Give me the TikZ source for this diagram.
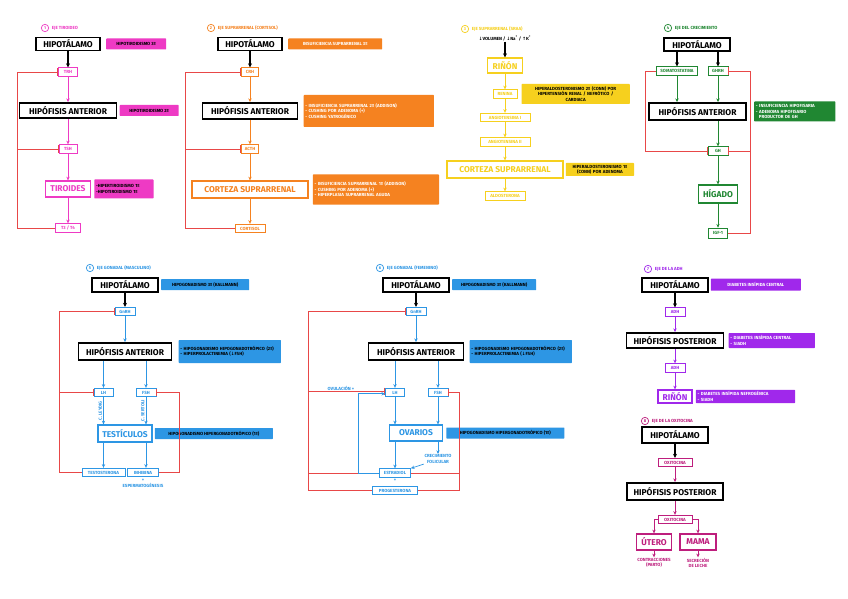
\documentclass[tikz,border=0pt]{standalone}
\usepackage{fontspec}
\setmainfont{Fira Sans}
\newfontfamily\arrowfont{DejaVu Sans}
\usepackage{tikz}
\usetikzlibrary{positioning,arrows.meta,calc}

\definecolor{cpink}{RGB}{238,58,196}
\definecolor{corange}{RGB}{245,130,32}
\definecolor{cyellow}{RGB}{246,208,30}
\definecolor{cgreen}{RGB}{32,135,50}
\definecolor{cblue}{RGB}{45,150,228}
\definecolor{cpurple}{RGB}{160,40,235}
\definecolor{cmag}{RGB}{190,30,125}
\definecolor{cred}{RGB}{232,72,72}

\newcommand{\dn}{{\arrowfont ↓}}
\newcommand{\upa}{{\arrowfont ↑}}

\begin{document}
\begin{tikzpicture}[
    x=0.3mm, y=-0.3mm,
    organ/.style={draw, line width=1.6pt, fill=white, inner sep=1pt, font=\fontsize{7.2}{8}\selectfont\bfseries},
    gland/.style={draw=#1, text=#1, line width=1.1pt, fill=white, inner sep=1pt, font=\fontsize{7.2}{8}\selectfont\bfseries},
    hormone/.style={draw=#1, text=#1, line width=0.6pt, fill=white, inner sep=1pt, minimum height=2.6mm, font=\fontsize{3.8}{4.5}\selectfont\bfseries},
    note/.style={fill=#1, rounded corners=0.5pt, inner sep=1.5pt, align=left, font=\fontsize{3.8}{4.6}\selectfont\bfseries},
    title/.style={text=#1, anchor=west, inner sep=0.5pt, font=\fontsize{3.8}{4.5}\selectfont\bfseries},
    num/.style={circle, draw=#1, text=#1, line width=0.6pt, inner sep=0pt, minimum size=2.2mm, font=\fontsize{3.5}{4}\selectfont\bfseries},
    smalltext/.style={text=#1, align=center, inner sep=0.5pt, font=\fontsize{3.8}{4.5}\selectfont\bfseries},
    arr/.style={draw=#1, line width=0.6pt, -{Stealth[length=1.1mm, width=1mm]}},
    blackarr/.style={draw=black, line width=1pt, -{Stealth[length=1.2mm, width=1.2mm]}},
    fb/.style={draw=cred, line width=0.8pt},
    inh/.style={fb, -{Bar[width=2.2mm]}}
]
\fill[white] (0,0) rectangle (848,599);

% ===== 1. Eje tiroideo =====
\node[num=cpink] (n1) at (45,28) {1};
\node[title=cpink, right=0.6mm of n1] (t1) {EJE TIROIDEO};
\node[organ, minimum width=19.2mm, minimum height=3.9mm] (hipo1) at (68,44) {HIPOTÁLAMO};
\node[note=cpink, right=1.5mm of hipo1, minimum width=18mm, minimum height=3.3mm] (nh1) {HIPOTIROIDISMO 3º};
\node[hormone=cpink, minimum width=5.7mm] (trh) at (68,72) {TRH};
\node[organ, minimum width=29.1mm, minimum height=4.5mm] (hif1) at (68,110.5) {HIPÓFISIS ANTERIOR};
\node[note=cpink, right=0.6mm of hif1, minimum width=17.7mm, minimum height=3.3mm] (nf1) {HIPOTIROIDISMO 2º};
\node[hormone=cpink, minimum width=5.4mm] (tsh) at (68,149) {TSH};
\node[gland=cpink, minimum width=13.5mm, minimum height=4.8mm] (tir) at (68,189) {TIROIDES};
\node[note=cpink, right=0.9mm of tir, text width=16.7mm, minimum height=5.7mm] (nt1) {-HIPERTIROIDISMO 1º\\-HIPOTIROIDISMO 1º};
\node[hormone=cpink, minimum width=7.5mm] (t3t4) at (68,228) {T3 / T4};

\draw[blackarr] (hipo1) -- (trh);
\draw[arr=cpink] (trh) -- (hif1);
\draw[arr=cpink] (hif1) -- (tsh);
\draw[arr=cpink] (tsh) -- (tir);
\draw[arr=cpink] (tir) -- (t3t4);

\coordinate (fb1) at (17,0);
\draw[inh] (t3t4.west) -- (t3t4.west -| fb1) |- (trh.west);
\draw[inh] (tsh.west -| fb1) -- (tsh.west);

% ===== 2. Eje suprarrenal (cortisol) =====
\node[num=corange] (n2) at (211,28) {2};
\node[title=corange, right=0.6mm of n2] (t2) {EJE SUPRARRENAL (CORTISOL)};
\node[organ, minimum width=19.2mm, minimum height=3.9mm] (hipo2) at (250,44) {HIPOTÁLAMO};
\node[note=corange, text=white, right=1.5mm of hipo2, minimum width=28.2mm, minimum height=3.3mm] (nh2) {INSUFICIENCIA SUPRARRENAL 3º};
\node[hormone=corange, minimum width=5.1mm] (crh) at (250,72) {CRH};
\node[organ, minimum width=28.5mm, minimum height=4.8mm] (hif2) at (250,111) {HIPÓFISIS ANTERIOR};
\node[note=corange, text=white, right=1.5mm of hif2, text width=38mm, minimum height=9.6mm] (nf2) {- INSUFICIENCIA SUPRARRENAL 2º (ADDISON)\\- CUSHING POR ADENOMA (+)\\- CUSHING YATROGÉNICO};
\node[hormone=corange, minimum width=5.1mm] (acth) at (250,149) {ACTH};
\node[gland=corange, minimum width=34.8mm, minimum height=5.1mm] (cort2) at (250,189.5) {CORTEZA SUPRARRENAL};
\node[note=corange, text=white, right=1.2mm of cort2, text width=36.8mm, minimum height=9mm] (nc2) {- INSUFICIENCIA SUPRARRENAL 1º (ADDISON)\\- CUSHING POR ADENOMA (+)\\- HIPERPLASIA SUPRARRENAL AGUDA};
\node[hormone=corange, minimum width=9mm] (cortisol) at (250,228.5) {CORTISOL};

\draw[blackarr] (hipo2) -- (crh);
\draw[arr=corange] (crh) -- (hif2);
\draw[arr=corange] (hif2) -- (acth);
\draw[arr=corange] (acth) -- (cort2);
\draw[arr=corange] (cort2) -- (cortisol);

\coordinate (fb2) at (185,0);
\draw[inh] (cortisol.west) -- (cortisol.west -| fb2) |- (crh.west);
\draw[inh] (acth.west -| fb2) -- (acth.west);

% ===== 3. Eje suprarrenal (SRAA) =====
\node[num=cyellow] (n3) at (465,29) {3};
\node[title=cyellow, right=0.6mm of n3] (t3) {EJE SUPRARRENAL (SRAA)};
\node[smalltext=black] (stim3) at (505,38.5) {\dn VOLUMEN / \dn Na\textsuperscript{+} / \upa K\textsuperscript{+}};
\node[gland=cyellow, minimum width=10.5mm, minimum height=4.5mm] (rin3) at (505,65.5) {RIÑÓN};
\node[hormone=cyellow, minimum width=7.2mm] (renina) at (505,94) {RENINA};
\node[note=cyellow, align=center, right=1.2mm of renina, text width=31.4mm, minimum height=6mm] (nr3) {HIPERALDOSTERONISMO 2º (CONN) POR\\HIPERTENSIÓN RENAL / NEFRÓTICO /\\CARDIACA};
\node[hormone=cyellow, minimum width=15mm] (ang1) at (505,117.5) {ANGIOTENSINA I};
\node[hormone=cyellow, minimum width=15mm] (ang2) at (505,142) {ANGIOTENSINA II};
\node[gland=cyellow, minimum width=34.8mm, minimum height=5.1mm] (cort3) at (505,169.5) {CORTEZA SUPRARRENAL};
\node[note=cyellow, align=center, right=0.6mm of cort3, text width=19.4mm, minimum height=3.9mm] (nc3) {HIPERALDOSTERONISMO 1º\\(CONN) POR ADENOMA};
\node[hormone=cyellow, minimum width=12mm] (aldo) at (505,196) {ALDOSTERONA};

\draw[blackarr] (stim3) -- (rin3);
\draw[arr=cyellow] (rin3) -- (renina);
\draw[arr=cyellow] (renina) -- (ang1);
\draw[arr=cyellow] (ang1) -- (ang2);
\draw[arr=cyellow] (ang2) -- (cort3);
\draw[arr=cyellow] (cort3) -- (aldo);

% ===== 4. Eje del crecimiento =====
\node[num=cgreen] (n4) at (668,28) {4};
\node[title=cgreen, right=0.6mm of n4] (t4) {EJE DEL CRECIMIENTO};
\node[organ, minimum width=19.8mm, minimum height=3.9mm] (hipo4) at (697,44.5) {HIPOTÁLAMO};
\node[hormone=cgreen, minimum width=12.3mm] (somat) at (677,71) {SOMATOSTATINA};
\node[hormone=cgreen, minimum width=6mm] (ghrh) at (718,71) {GHRH};
\node[organ, minimum width=29.1mm, minimum height=5.1mm] (hif4) at (697.5,111.5) {HIPÓFISIS ANTERIOR};
\node[note=cgreen, text=white, right=2.1mm of hif4, text width=23.3mm, minimum height=6mm] (nf4) {- INSUFICIENCIA HIPOFISARIA\\- ADENOMA HIPOFISARIO\\\ \ PRODUCTOR DE GH};
\node[hormone=cgreen, minimum width=6mm] (gh) at (718,151) {GH};
\node[gland=cgreen, minimum width=11.7mm, minimum height=5.4mm] (higado) at (718,194) {HÍGADO};
\node[hormone=cgreen, minimum width=5.7mm, minimum height=3mm] (igf) at (718,233) {IGF-1};

\draw[blackarr] (somat |- hipo4.south) -- (somat);
\draw[blackarr] (ghrh |- hipo4.south) -- (ghrh);
\draw[arr=cgreen] (somat) -- (somat |- hif4.north);
\draw[arr=cgreen] (ghrh) -- (ghrh |- hif4.north);
\draw[arr=cgreen] (gh |- hif4.south) -- (gh);
\draw[arr=cgreen] (gh) -- (higado);
\draw[arr=cgreen] (higado) -- (igf);

\coordinate (fb4l) at (645,0);
\coordinate (fb4r) at (750,0);
\draw[inh] (somat.west) -- (somat.west -| fb4l) |- (gh.west);
\draw[inh] (igf.east) -- (igf.east -| fb4r) |- (ghrh.east);
\draw[inh] (gh.east -| fb4r) -- (gh.east);

% ===== 5. Eje gonadal (masculino) =====
\node[num=cblue] (n5) at (90,268) {5};
\node[title=cblue, right=0.6mm of n5] (t5) {EJE GONADAL (MASCULINO)};
\node[organ, minimum width=19.8mm, minimum height=4.2mm] (hipo5) at (125,284.7) {HIPOTÁLAMO};
\node[note=cblue, right=0.6mm of hipo5, minimum width=26.4mm, minimum height=3.3mm] (nh5) {HIPOGONADISMO 3º (KALLMANN)};
\node[hormone=cblue, minimum width=6mm] (gnrh5) at (125,311.5) {GnRH};
\node[organ, minimum width=27.9mm, minimum height=5.1mm] (hif5) at (125,351.5) {HIPÓFISIS ANTERIOR};
\node[note=cblue, right=1.8mm of hif5, text width=29.6mm, minimum height=6.9mm] (nf5) {- HIPOGONADISMO HIPOGONADOTRÓPICO (2º)\\- HIPERPROLACTINEMIA (\dn FSH)};
\node[hormone=cblue, minimum width=5.7mm] (lh5) at (103.5,392.5) {LH};
\node[hormone=cblue, minimum width=6mm] (fsh5) at (146,392.5) {FSH};
\node[gland=cblue, minimum width=16.2mm, minimum height=5.1mm] (test) at (125,433.5) {TESTÍCULOS};
\node[note=cblue, right=0.6mm of test, minimum width=35.4mm, minimum height=3.3mm] (nt5) {HIPOGONADISMO HIPERGONADOTRÓPICO (1º)};
\node[hormone=cblue, minimum width=12.9mm] (testo) at (103.5,472.5) {TESTOSTERONA};
\node[hormone=cblue, minimum width=9.3mm] (inhib) at (143,472.5) {INHIBINA};
\node[smalltext=cblue, below=0.2mm of inhib] (plus5) {+};
\node[smalltext=cblue, below=0mm of plus5] (esp) {ESPERMATOGÉNESIS};

\draw[blackarr] (hipo5) -- (gnrh5);
\draw[arr=cblue] (gnrh5) -- (hif5);
\draw[arr=cblue] (lh5 |- hif5.south) -- (lh5);
\draw[arr=cblue] (fsh5 |- hif5.south) -- (fsh5);
\draw[arr=cblue] (lh5) -- node[smalltext=cblue, midway, rotate=90, anchor=south, inner sep=1pt] {C. LEYDIG} (lh5 |- test.north);
\draw[arr=cblue] (fsh5) -- node[smalltext=cblue, midway, rotate=90, anchor=south, inner sep=1pt] {C. SERTOLI} (fsh5 |- test.north);
\draw[arr=cblue] (testo |- test.south) -- (testo);
\draw[arr=cblue] (fsh5 |- test.south) -- (fsh5 |- inhib.north);

\coordinate (fb5l) at (59,0);
\coordinate (fb5r) at (179,0);
\draw[inh] (testo.west) -- (testo.west -| fb5l) |- (gnrh5.west);
\draw[inh] (lh5.west -| fb5l) -- (lh5.west);
\draw[inh] (inhib.east) -- (inhib.east -| fb5r) |- (fsh5.east);

% ===== 6. Eje gonadal (femenino) =====
\node[num=cblue] (n6) at (380,268) {6};
\node[title=cblue, right=0.6mm of n6] (t6) {EJE GONADAL (FEMENINO)};
\node[organ, minimum width=19.8mm, minimum height=4.2mm] (hipo6) at (416,284.7) {HIPOTÁLAMO};
\node[note=cblue, right=0.6mm of hipo6, minimum width=25.2mm, minimum height=3.3mm] (nh6) {HIPOGONADISMO 3º (KALLMANN)};
\node[hormone=cblue, minimum width=6mm] (gnrh6) at (416,311.5) {GnRH};
\node[organ, minimum width=28.5mm, minimum height=5.1mm] (hif6) at (416,351.5) {HIPÓFISIS ANTERIOR};
\node[note=cblue, right=1.5mm of hif6, text width=29.6mm, minimum height=6.9mm] (nf6) {- HIPOGONADISMO HIPOGONADOTRÓPICO (2º)\\- HIPERPROLACTINEMIA (\dn FSH)};
\node[hormone=cblue, minimum width=5.7mm] (lh6) at (395,392.5) {LH};
\node[hormone=cblue, minimum width=6mm] (fsh6) at (438,392.5) {FSH};
\node[gland=cblue, minimum width=15.9mm, minimum height=4.8mm] (ov) at (416,433) {OVARIOS};
\node[note=cblue, right=0.9mm of ov, minimum width=35.4mm, minimum height=3.3mm] (no6) {HIPOGONADISMO HIPERGONADOTRÓPICO (1º)};
\node[smalltext=cblue] (crec) at (438,459) {CRECIMIENTO\\FOLICULAR};
\node[hormone=cblue, minimum width=9.3mm] (estr) at (395,473) {ESTRADIOL};
\node[smalltext=cblue, below=0.1mm of estr] (plus6) {+};
\node[hormone=cblue, minimum width=13.5mm] (prog) at (395,490.5) {PROGESTERONA};
\node[smalltext=cblue] (ovul) at (341,388) {OVULACIÓN +};

\draw[blackarr] (hipo6) -- (gnrh6);
\draw[arr=cblue] (gnrh6) -- (hif6);
\draw[arr=cblue] (lh6 |- hif6.south) -- (lh6);
\draw[arr=cblue] (fsh6 |- hif6.south) -- (fsh6);
\draw[arr=cblue] (lh6) -- (lh6 |- ov.north);
\draw[arr=cblue] (fsh6) -- (fsh6 |- ov.north);
\draw[arr=cblue] (lh6 |- ov.south) -- (estr);
\draw[arr=cblue] (fsh6 |- ov.south) -- (crec);
\draw[arr=cblue] (crec.south west) -- (estr.north east);

\coordinate (fb6l) at (308,0);
\coordinate (fb6m) at (358,0);
\coordinate (fb6r) at (459,0);
\coordinate (lh6a) at ($(lh6.west)+(0,-1.3)$);
\coordinate (lh6b) at ($(lh6.west)+(0,1.3)$);
\draw[inh] (prog.west) -- (prog.west -| fb6l) |- (gnrh6.west);
\draw[fb] (estr.west) -- (estr.west -| fb6l);
\draw[inh] (lh6a -| fb6l) -- (lh6a);
\draw[arr=cblue] (estr.west) -- (estr.west -| fb6m) |- (lh6b);
\draw[inh] (prog.east) -- (prog.east -| fb6r) |- (fsh6.east);
\draw[fb] (estr.east) -- (estr.east -| fb6r);

% ===== 7. Eje de la ADH =====
\node[num=cpurple] (n7) at (648,269) {7};
\node[title=cpurple, right=0.6mm of n7] (t7) {EJE DE LA ADH};
\node[organ, minimum width=19.8mm, minimum height=4.2mm] (hipo7) at (675,284.7) {HIPOTÁLAMO};
\node[note=cpurple, text=white, right=0.5mm of hipo7, minimum width=27mm, minimum height=3.6mm] (nh7) {DIABETES INSÍPIDA CENTRAL};
\node[hormone=cpurple, minimum width=6mm] (adh7a) at (675,312) {ADH};
\node[organ, minimum width=29.1mm, minimum height=4.5mm] (hpp7) at (675,340.5) {HIPÓFISIS POSTERIOR};
\node[note=cpurple, text=white, right=1.2mm of hpp7, text width=24.8mm, minimum height=4.5mm] (nf7) {- DIABETES INSÍPIDA CENTRAL\\- SIADH};
\node[hormone=cpurple, minimum width=6mm] (adh7b) at (675,368) {ADH};
\node[gland=cpurple, minimum width=10.2mm, minimum height=3.9mm] (rin7) at (675,396.5) {RIÑÓN};
\node[note=cpurple, text=white, right=0.9mm of rin7, text width=28.7mm, minimum height=3.6mm] (nr7) {- DIABETES INSÍPIDA NEFROGÉNICA\\- SIADH};

\draw[blackarr] (hipo7) -- (adh7a);
\draw[arr=cpurple] (adh7a) -- (hpp7);
\draw[arr=cpurple] (hpp7) -- (adh7b);
\draw[arr=cpurple] (adh7b) -- (rin7);

% ===== 8. Eje de la oxitocina =====
\node[num=cmag] (n8) at (645,421) {8};
\node[title=cmag, right=0.6mm of n8] (t8) {EJE DE LA OXITOCINA};
\node[organ, minimum width=19.8mm, minimum height=4.8mm] (hipo8) at (675,435) {HIPOTÁLAMO};
\node[hormone=cmag, minimum width=10.2mm] (oxi8a) at (675,462.5) {OXITOCINA};
\node[organ, minimum width=28.8mm, minimum height=5.1mm] (hpp8) at (675,491.5) {HIPÓFISIS POSTERIOR};
\node[hormone=cmag, minimum width=10.2mm] (oxi8b) at (675,519.5) {OXITOCINA};
\node[gland=cmag, minimum width=10.5mm, minimum height=4.8mm] (utero) at (654,542) {ÚTERO};
\node[gland=cmag, minimum width=10.8mm, minimum height=4.8mm] (mama) at (698,542) {MAMA};
\node[smalltext=cmag, below=2mm of utero] (contr) {CONTRACCIONES\\(PARTO)};
\node[smalltext=cmag, below=2mm of mama] (secr) {SECRECIÓN\\DE LECHE};

\draw[blackarr] (hipo8) -- (oxi8a);
\draw[arr=cmag] (oxi8a) -- (hpp8);
\draw[arr=cmag] (hpp8) -- (oxi8b);
\draw[arr=cmag] (oxi8b.west) -| (utero);
\draw[arr=cmag] (oxi8b.east) -| (mama);
\draw[arr=cmag] (utero) -- (contr);
\draw[arr=cmag] (mama) -- (secr);

\end{tikzpicture}
\end{document}
